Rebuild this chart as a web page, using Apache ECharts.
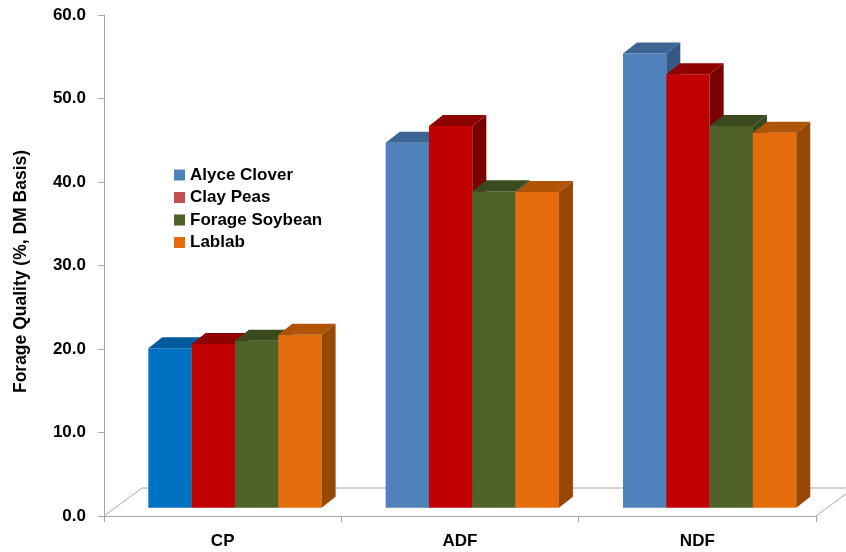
<!DOCTYPE html>
<html>
<head>
<meta charset="utf-8">
<script src="https://cdn.jsdelivr.net/npm/echarts@6/dist/echarts.min.js"></script>
<style>
html,body{margin:0;padding:0;background:#fff;}
#chart{width:846px;height:552px;}
</style>
</head>
<body>
<div id="chart"></div>
<script>
var categories = ['CP', 'ADF', 'NDF'];
var seriesNames = ['Alyce Clover', 'Clay Peas', 'Forage Soybean', 'Lablab'];
var alyceClover = [19.1, 43.7, 54.4];
var clayPeas = [19.6, 45.7, 51.9];
var forageSoybean = [20.0, 37.9, 45.7];
var lablab = [20.7, 37.8, 44.9];
var yTicks = { min: 0, max: 60, interval: 10 };

var seriesValues = [alyceClover, clayPeas, forageSoybean, lablab];

// styling (not data)
var legendColors = ['#4F81BD', '#C0504D', '#4F6228', '#E46C0A'];
var faceColors = [
  { front: '#4F81BD', top: '#3C6593', side: '#345985' },
  { front: '#C00000', top: '#8F0000', side: '#7A0000' },
  { front: '#4F6228', top: '#3B4A1E', side: '#3A481D' },
  { front: '#E46C0A', top: '#B05508', side: '#974806' }
];
var specialFace = { series: 0, cat: 0, front: '#0070C0', top: '#005A9C', side: '#004F88' };
var BAR_FRAC = 0.1825, OFF_X = 12.3, OFF_Y = 8.3, DX = 14, DY = 11;
var FLOOR_DX = 38, FLOOR_DY = 28;
var FONT = 'Liberation Sans';

function makeRender(si) {
  return function (params, api) {
    var c = api.value(0), v = api.value(1);
    var base = api.coord([c, 0]);
    var topP = api.coord([c, v]);
    var cw = api.size([1, 0])[0];
    var bw = cw * BAR_FRAC;
    var x0 = base[0] - 2 * bw + si * bw + OFF_X;
    var y0 = base[1] - OFF_Y;
    var y1 = topP[1] - OFF_Y;
    var col = faceColors[si];
    if (si === specialFace.series && c === specialFace.cat) col = specialFace;
    return {
      type: 'group',
      children: [
        { type: 'rect', shape: { x: x0, y: y1, width: bw, height: y0 - y1 }, style: { fill: col.front } },
        { type: 'polygon', shape: { points: [[x0, y1], [x0 + bw, y1], [x0 + bw + DX, y1 - DY], [x0 + DX, y1 - DY]] }, style: { fill: col.top } },
        { type: 'polygon', shape: { points: [[x0 + bw, y1], [x0 + bw + DX, y1 - DY], [x0 + bw + DX, y0 - DY], [x0 + bw, y0]] }, style: { fill: col.side } }
      ]
    };
  };
}

var series = [{
  type: 'custom',
  name: 'floor',
  silent: true,
  z: 1,
  data: [[0, 0]],
  renderItem: function (params, api) {
    var cw = api.size([1, 0])[0];
    var l = api.coord([0, 0]);
    var r = api.coord([categories.length - 1, 0]);
    var xl = l[0] - cw / 2, xr = r[0] + cw / 2, y = l[1];
    return {
      type: 'polyline',
      shape: { points: [[xl, y], [xl + FLOOR_DX, y - FLOOR_DY], [xr + FLOOR_DX, y - FLOOR_DY]] },
      style: { stroke: '#A6A6A6', lineWidth: 1, fill: null }
    };
  }
}, {
  type: 'custom',
  name: 'floorRight',
  silent: true,
  z: 5,
  data: [[0, 0]],
  renderItem: function (params, api) {
    var cw = api.size([1, 0])[0];
    var r = api.coord([categories.length - 1, 0]);
    var xr = r[0] + cw / 2, y = r[1];
    return {
      type: 'line',
      shape: { x1: xr, y1: y, x2: xr + FLOOR_DX, y2: y - FLOOR_DY },
      style: { stroke: '#A6A6A6', lineWidth: 1 }
    };
  }
}];

seriesNames.forEach(function (name, si) {
  series.push({
    type: 'custom',
    name: name,
    z: 2,
    itemStyle: { color: legendColors[si] },
    data: categories.map(function (cat, ci) { return [ci, seriesValues[si][ci]]; }),
    renderItem: makeRender(si)
  });
});

var chart = echarts.init(document.getElementById('chart'));
chart.setOption({
  animation: false,
  backgroundColor: '#fff',
  textStyle: { fontFamily: FONT },
  grid: { left: 104, right: 30, top: 15, bottom: 36, containLabel: false },
  legend: {
    data: seriesNames.map(function (n, i) { return { name: n, icon: 'rect', itemStyle: { color: legendColors[i] } }; }),
    orient: 'vertical',
    left: 169,
    top: 161,
    itemWidth: 11,
    itemHeight: 11,
    itemGap: 4.5,
    textStyle: { fontSize: 17, fontWeight: 'bold', color: '#000', lineHeight: 18, fontFamily: FONT }
  },
  xAxis: {
    type: 'category',
    data: categories,
    boundaryGap: true,
    axisLine: { show: true, lineStyle: { color: '#A6A6A6', width: 1 } },
    axisTick: { show: true, length: 6, lineStyle: { color: '#A6A6A6' } },
    axisLabel: { fontSize: 17, fontWeight: 'bold', color: '#000', margin: 17, fontFamily: FONT },
    splitLine: { show: false }
  },
  yAxis: {
    type: 'value',
    min: yTicks.min,
    max: yTicks.max,
    interval: yTicks.interval,
    name: 'Forage Quality (%, DM Basis)',
    nameLocation: 'middle',
    nameGap: 74,
    nameTextStyle: { fontSize: 17.5, fontWeight: 'bold', color: '#000', fontFamily: FONT, padding: [0, 12, 0, 0] },
    axisLine: { show: true, lineStyle: { color: '#A6A6A6', width: 1 } },
    axisTick: { show: true, length: 6, lineStyle: { color: '#A6A6A6' } },
    axisLabel: { fontSize: 17, fontWeight: 'bold', color: '#000', margin: 18, fontFamily: FONT,
      formatter: function (v) { return v.toFixed(1); } },
    splitLine: { show: false }
  },
  series: series
});
</script>
</body>
</html>
